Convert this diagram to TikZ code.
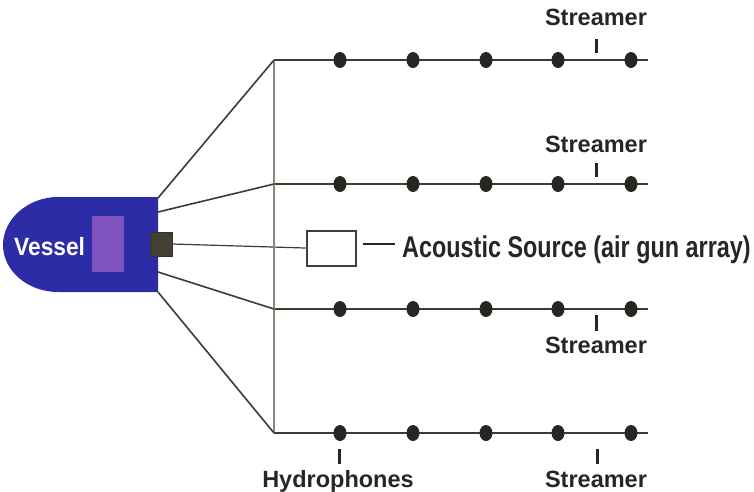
\documentclass[tikz,border=0pt]{standalone}
\usepackage{fontspec}
\setmainfont{Liberation Sans}
\newfontfamily\tallfont[FakeStretch=0.78]{Liberation Sans}
\newfontfamily\vesfont[FakeStretch=0.91]{Liberation Sans}
\usetikzlibrary{shapes.geometric}
\definecolor{hullblue}{RGB}{44,44,166}
\definecolor{cabin}{RGB}{128,84,190}
\definecolor{winchgray}{RGB}{66,63,52}
\definecolor{cable}{RGB}{62,58,48}
\definecolor{frame}{RGB}{140,135,124}
\definecolor{ink}{RGB}{40,38,34}
\tikzset{
  hyd/.style={ellipse,fill=ink,minimum width=13pt,minimum height=16pt,inner sep=0pt},
  lbl/.style={text=ink,font=\bfseries\fontsize{23.5}{26}\selectfont,inner sep=0pt,anchor=base},
  tick/.style={draw=ink,line width=3pt},
  tow/.style={draw=cable,line width=1.6pt}
}
\begin{document}
\begin{tikzpicture}[x=1pt,y=-1pt]
\useasboundingbox (0,0) rectangle (754,491);
% vessel
\fill[hullblue] (158,197) -- (158,292) -- (58,292)
  .. controls (28,292) and (3,271) .. (3,245)
  .. controls (3,219) and (28,197) .. (58,197) -- cycle;
\fill[cabin] (92,216) rectangle (124,272);
\node (vessel)[text=white,font=\vesfont\bfseries\fontsize{25}{28}\selectfont,inner sep=0pt,anchor=base west] at (14,255) {Vessel};
\node (winch)[fill=winchgray,draw=black!80,line width=0.5pt,minimum width=22pt,minimum height=24pt,inner sep=0pt] at (161,244) {};
\coordinate (v1) at (158,198);
\coordinate (v2) at (158,212);
\coordinate (v3) at (158,272);
\coordinate (v4) at (158,292);

% source
\node (src)[draw=winchgray,line width=2pt,fill=white,minimum width=49pt,minimum height=35pt,inner sep=0pt] at (331,248) {};
\node (srclbl)[text=ink,font=\tallfont\bfseries\fontsize{30}{32}\selectfont,inner sep=0pt,anchor=base west] at (402,257) {Acoustic Source (air gun array)};
\coordinate (d1) at (363,244);
\coordinate (d2) at (395,244);
\path[draw=cable,line width=1.2pt] (winch.east) -- (src.west);
\path[draw=ink,line width=2.4pt] (d1) -- (d2);

% streamers
\foreach \i/\y in {1/60,2/184,3/309,4/433}{
  \coordinate (s\i a) at (274,\y);
  \coordinate (s\i b) at (648,\y);
  \path[tow] (s\i a) -- (s\i b);
  \foreach \j/\x in {1/340,2/413,3/486,4/558,5/631}
    \node (h\i\j)[hyd] at (\x,\y) {};
}
\path[draw=frame,line width=1.5pt] (s1a) -- (s4a);
\path[tow] (v1) edge (s1a) (v2) edge (s2a) (v3) edge (s3a) (v4) edge (s4a);

% labels
\node (st1)[lbl] at (596,25) {Streamer};
\node (st2)[lbl] at (596,152) {Streamer};
\node (st3)[lbl] at (596,353) {Streamer};
\node (st4)[lbl] at (596,487) {Streamer};
\node (hyl)[lbl] at (338,487) {Hydrophones};
\path[tick] (596,39) -- (596,53);
\path[tick] (596,163) -- (596,177);
\path[tick] (596,315) -- (596,331);
\path[tick] (597,449) -- (597,464);
\path[tick] (339,449) -- (339,464);
\end{tikzpicture}
\end{document}
